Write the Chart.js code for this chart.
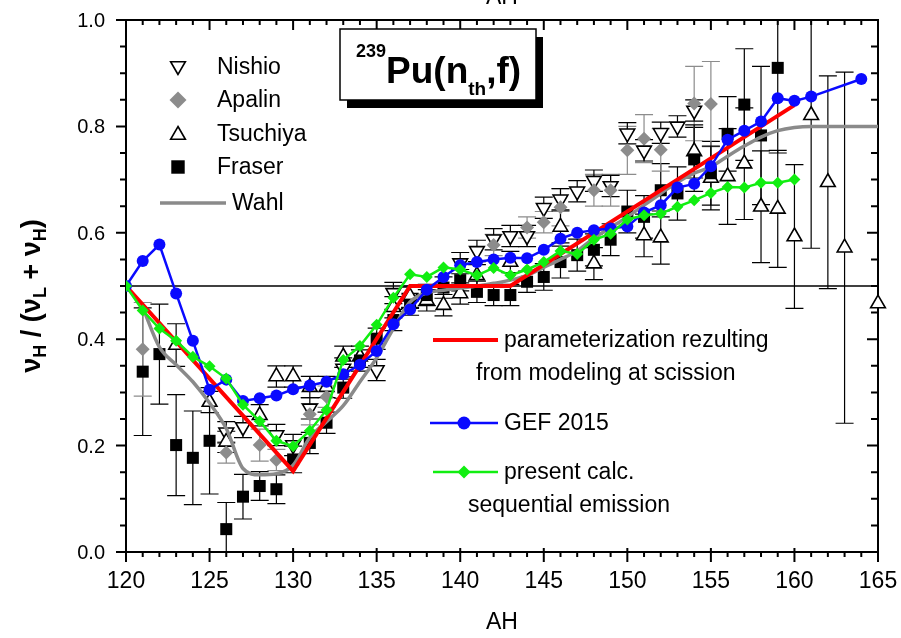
<!DOCTYPE html>
<html>
<head>
<meta charset="utf-8">
<script src="https://cdn.jsdelivr.net/npm/chart.js@4.4.1/dist/chart.umd.min.js"></script>
<style>
  html, body { margin: 0; padding: 0; background: #fff; }
  #wrap { width: 901px; height: 638px; }
</style>
</head>
<body>
<div id="wrap"><canvas id="ratioChart" width="901" height="638"></canvas></div>
<script>
var FONT = '"Liberation Sans", Arial, Helvetica, sans-serif';

// calculations
var gefA = [120,121,122,123,124,125,126,127,128,129,130,131,132,133,134,135,136,137,138,139,140,
            141,142,143,144,145,146,147,148,149,150,151,152,153,154,155,156,157,158,159,160,161,164];
var gefRatio = [0.500,0.547,0.578,0.486,0.397,0.305,0.324,0.284,0.289,0.294,0.306,0.313,0.320,0.334,0.352,
                0.378,0.428,0.456,0.493,0.517,0.539,0.545,0.550,0.553,0.552,0.568,0.589,0.600,0.605,0.608,
                0.612,0.638,0.652,0.685,0.692,0.725,0.775,0.792,0.809,0.853,0.848,0.856,0.889];

var calcA = [120,121,122,123,124,125,126,127,128,129,130,131,132,133,134,135,136,137,138,139,140,
             141,142,143,144,145,146,147,148,149,150,151,152,153,154,155,156,157,158,159,160];
var calcRatio = [0.500,0.454,0.420,0.397,0.367,0.349,0.326,0.277,0.246,0.209,0.199,0.228,0.267,0.361,0.387,
                 0.427,0.478,0.522,0.517,0.535,0.531,0.520,0.534,0.520,0.531,0.545,0.566,0.560,0.587,0.598,
                 0.625,0.633,0.636,0.649,0.661,0.675,0.686,0.685,0.694,0.694,0.700];

var paramA = [120, 130, 137, 143, 160];
var paramRatio = [0.500, 0.152, 0.500, 0.500, 0.840];

var wahlA = [121,122,123,124,125,126,127,128,129,130,131,132,133,134,135,136,137,138,139,140,141,142,143,
             144,145,146,147,148,149,150,151,152,153,154,155,156,157,158,159,160,161,162,163,164,165];
var wahlRatio = [0.460,0.385,0.352,0.320,0.280,0.232,0.157,0.145,0.147,0.163,0.215,0.245,0.275,0.320,0.365,
                 0.420,0.470,0.487,0.492,0.496,0.500,0.505,0.511,0.520,0.535,0.550,0.566,0.590,0.610,0.630,
                 0.652,0.674,0.695,0.712,0.724,0.744,0.763,0.780,0.792,0.798,0.800,0.800,0.800,0.800,0.800];

// measurements
var nishioA = [126,127,129,130,131,133,135,136,137,140,141,142,143,144,145,146,147,148,149,150,151,152,153,154];
var nishioRatio = [0.225,0.235,0.220,0.201,0.270,0.345,0.342,0.487,0.478,0.543,0.566,0.588,0.594,0.594,
                   0.647,0.663,0.678,0.698,0.688,0.787,0.755,0.788,0.800,0.830];
var nishioErr = [0.02,0.02,0.02,0.02,0.02,0.02,0.02,0.02,0.02,0.02,0.02,0.02,0.02,0.02,
                 0.02,0.02,0.02,0.02,0.02,0.02,0.02,0.02,0.02,0.02];

var apalinA = [121,126,128,129,131,132,142,144,145,146,148,149,150,151,152,154,155];
var apalinRatio = [0.381,0.187,0.201,0.173,0.259,0.292,0.577,0.610,0.620,0.648,0.680,0.680,0.755,0.777,0.756,0.843,0.842];
var apalinErr = [0.088,0.02,0.03,0.02,0.02,0.02,0.02,0.02,0.02,0.035,0.03,0.03,0.045,0.045,0.04,0.07,0.08];

var tsuchiyaA = [123,125,126,128,129,130,131,132,133,134,136,137,138,139,140,141,143,146,148,
                 151,152,154,155,156,157,158,159,160,161,162,163,165];
var tsuchiyaRatio = [0.389,0.282,0.207,0.257,0.330,0.330,0.310,0.310,0.367,0.367,0.460,0.480,0.473,0.464,0.486,
                     0.520,0.545,0.611,0.542,0.595,0.591,0.753,0.703,0.706,0.730,0.649,0.645,0.593,0.821,
                     0.695,0.572,0.467];
var tsuchiyaErr = [0.04,0.02,0.02,0.02,0.02,0.02,0.02,0.02,0.02,0.02,0.02,0.02,0.02,0.02,0.02,
                   0.02,0.02,0.03,0.03,0.04,0.05,0.05,0.06,0.09,0.105,0.105,0.11,0.135,0.25,
                   0.2,0.33,0];

var fraserA = [121,122,123,124,125,126,127,128,129,130,131,132,133,134,135,136,137,138,139,140,
               141,142,143,144,145,146,147,148,149,150,151,152,153,154,155,156,157,158,159];
var fraserRatio = [0.339,0.372,0.201,0.177,0.209,0.043,0.104,0.124,0.118,0.174,0.205,0.243,0.309,0.360,
                   0.401,0.436,0.465,0.483,0.497,0.511,0.489,0.483,0.483,0.508,0.517,0.545,0.558,0.568,
                   0.587,0.640,0.630,0.680,0.674,0.738,0.712,0.786,0.841,0.783,0.910];
var fraserErr = [0.12,0.094,0.095,0.088,0.1,0.05,0.042,0.027,0.027,0.025,0.02,0.02,0.02,0.02,
                 0.02,0.02,0.02,0.02,0.02,0.02,0.02,0.02,0.02,0.02,0.025,0.03,0.03,0.03,
                 0.03,0.04,0.04,0.05,0.05,0.06,0.06,0.07,0.105,0.13,0.16];

// axis ticks
var xLabels = [120, 125, 130, 135, 140, 145, 150, 155, 160, 165];
var yLabels = [0.0, 0.2, 0.4, 0.6, 0.8, 1.0];

function pts(xs, ys) {
    return xs.map(function(x, i) { return { x: x, y: ys[i] }; });
}

// vertical error bars with caps, under the markers
var errorBars = {
    id: 'errorBars',
    beforeDatasetsDraw: function(chart) {
        var ctx = chart.ctx, sx = chart.scales.x, sy = chart.scales.y, a = chart.chartArea;
        ctx.save();
        ctx.beginPath();
        ctx.rect(a.left, a.top, a.right - a.left, a.bottom - a.top);
        ctx.clip();
        ctx.lineWidth = 1.2;
        chart.data.datasets.forEach(function(ds) {
            if (!ds.errors) return;
            ctx.strokeStyle = ds.errorColor;
            ds.data.forEach(function(p, i) {
                var e = ds.errors[i];
                if (!e) return;
                var px = sx.getPixelForValue(p.x);
                var y1 = sy.getPixelForValue(p.y - e), y2 = sy.getPixelForValue(p.y + e);
                ctx.beginPath();
                ctx.moveTo(px, y1); ctx.lineTo(px, y2);
                ctx.moveTo(px - 9, y1); ctx.lineTo(px + 9, y1);
                ctx.moveTo(px - 9, y2); ctx.lineTo(px + 9, y2);
                ctx.stroke();
            });
        });
        ctx.restore();
    }
};

// box, tick marks, tick labels and the 0.5 reference line
var frame = {
    id: 'frame',
    beforeDatasetsDraw: function(chart) {
        var ctx = chart.ctx, sx = chart.scales.x, sy = chart.scales.y, a = chart.chartArea;
        ctx.save();
        ctx.strokeStyle = '#000';
        ctx.lineWidth = 1.5;
        var y05 = sy.getPixelForValue(0.5);
        ctx.beginPath(); ctx.moveTo(a.left, y05); ctx.lineTo(a.right, y05); ctx.stroke();

        ctx.lineWidth = 2;
        ctx.strokeRect(a.left, a.top, a.right - a.left, a.bottom - a.top);
        ctx.beginPath();
        for (var v = sx.min; v <= sx.max; v++) {
            var px = sx.getPixelForValue(v), major = v % 5 === 0;
            ctx.moveTo(px, a.bottom - (major ? 4 : 0)); ctx.lineTo(px, a.bottom + (major ? 10 : 5));
            ctx.moveTo(px, a.top); ctx.lineTo(px, a.top + (major ? 10 : 5));
        }
        for (var k = 0; k <= 20; k++) {
            var py = sy.getPixelForValue(k * 0.05), maj = k % 4 === 0;
            ctx.moveTo(a.left - (maj ? 10 : 6), py); ctx.lineTo(a.left, py);
            ctx.moveTo(a.right - (maj ? 11 : 7), py); ctx.lineTo(a.right, py);
        }
        ctx.stroke();

        ctx.fillStyle = '#000';
        ctx.textBaseline = 'alphabetic';
        ctx.textAlign = 'center';
        ctx.font = '23px ' + FONT;
        xLabels.forEach(function(t) {
            ctx.fillText(String(t), sx.getPixelForValue(t), a.bottom + 36);
        });
        ctx.textAlign = 'right';
        ctx.font = '20px ' + FONT;
        yLabels.forEach(function(t) {
            ctx.fillText(t.toFixed(1), a.left - 21, sy.getPixelForValue(t) + 7);
        });
        ctx.restore();
    }
};

function marker(ctx, style, r, rot, fill, stroke, bw, x, y) {
    ctx.fillStyle = fill;
    ctx.strokeStyle = stroke;
    ctx.lineWidth = bw;
    Chart.helpers.drawPoint(ctx, { pointStyle: style, radius: r, rotation: rot, borderWidth: bw }, x, y);
}

// draws text pieces one after another: [text, font, baseline shift]
function runs(ctx, parts, x, y, align) {
    var total = 0;
    parts.forEach(function(p) { ctx.font = p[1]; total += ctx.measureText(p[0]).width; });
    var cx = align === 'center' ? x - total / 2 : x;
    parts.forEach(function(p) {
        ctx.font = p[1];
        ctx.fillText(p[0], cx, y + (p[2] || 0));
        cx += ctx.measureText(p[0]).width;
    });
}

var overlay = {
    id: 'overlay',
    afterDraw: function(chart) {
        var ctx = chart.ctx, a = chart.chartArea;
        ctx.save();
        ctx.fillStyle = '#000';
        ctx.textBaseline = 'middle';
        ctx.textAlign = 'left';

        // data legend, upper left
        var f = '23px ' + FONT;
        marker(ctx, 'triangle', 8.5, 180, '#fff', '#000', 1.6, 178, 66);
        marker(ctx, 'rectRot', 8.5, 0, '#8c8c8c', '#8c8c8c', 0, 178, 100);
        marker(ctx, 'triangle', 8.5, 0, '#fff', '#000', 1.6, 178, 135);
        marker(ctx, 'rect', 9.5, 0, '#000', '#000', 0, 178, 167);
        ctx.strokeStyle = '#8a8a8a'; ctx.lineWidth = 3.5;
        ctx.beginPath(); ctx.moveTo(160, 203); ctx.lineTo(226, 203); ctx.stroke();
        ctx.fillStyle = '#000';
        ctx.font = f;
        ctx.fillText('Nishio', 217, 68);
        ctx.fillText('Apalin', 217, 101);
        ctx.fillText('Tsuchiya', 217, 135);
        ctx.fillText('Fraser', 217, 168);
        ctx.fillText('Wahl', 232, 204);

        // model legend, lower right
        ctx.strokeStyle = '#ff0000'; ctx.lineWidth = 4;
        ctx.beginPath(); ctx.moveTo(433, 340); ctx.lineTo(498, 340); ctx.stroke();
        ctx.strokeStyle = '#0a0aff'; ctx.lineWidth = 2.5;
        ctx.beginPath(); ctx.moveTo(430, 423); ctx.lineTo(498, 423); ctx.stroke();
        marker(ctx, 'circle', 6.5, 0, '#0a0aff', '#0a0aff', 0, 464, 423);
        ctx.strokeStyle = '#11ee11'; ctx.lineWidth = 2.5;
        ctx.beginPath(); ctx.moveTo(433, 472); ctx.lineTo(498, 472); ctx.stroke();
        marker(ctx, 'rectRot', 6.5, 0, '#11ee11', '#11ee11', 0, 464, 472);
        ctx.fillStyle = '#000';
        ctx.font = f;
        ctx.fillText('parameterization rezulting', 504, 341);
        ctx.fillText('from modeling at scission', 476, 374);
        ctx.fillText('GEF 2015', 504, 424);
        ctx.fillText('present calc.', 504, 473);
        ctx.fillText('sequential emission', 468, 506);

        // reaction label with drop shadow
        ctx.fillStyle = '#000';
        ctx.fillRect(347, 37, 196, 71);
        ctx.fillStyle = '#fff';
        ctx.fillRect(340, 29, 196, 71);
        ctx.strokeStyle = '#000'; ctx.lineWidth = 1.5;
        ctx.strokeRect(340, 29, 196, 71);
        ctx.fillStyle = '#000';
        ctx.textBaseline = 'alphabetic';
        runs(ctx, [
            ['239', 'bold 18px ' + FONT, -26],
            ['Pu(n', 'bold 37px ' + FONT, 0],
            ['th', 'bold 19px ' + FONT, 12],
            [',f)', 'bold 37px ' + FONT, 0]
        ], 356, 83, 'left');

        // y axis title
        ctx.save();
        ctx.translate(40, 296);
        ctx.rotate(-Math.PI / 2);
        runs(ctx, [
            ['\u03BD', 'bold 27px ' + FONT, 0],
            ['H', 'bold 18px ' + FONT, 6],
            [' / (\u03BD', 'bold 27px ' + FONT, 0],
            ['L', 'bold 18px ' + FONT, 6],
            [' + \u03BD', 'bold 27px ' + FONT, 0],
            ['H', 'bold 18px ' + FONT, 6],
            [')', 'bold 27px ' + FONT, 0]
        ], 0, 0, 'center');
        ctx.restore();

        // top axis title, mostly above the canvas edge
        ctx.font = '23px ' + FONT;
        ctx.textAlign = 'center';
        ctx.fillText('AH', (a.left + a.right) / 2, 4);
        ctx.restore();
    }
};

var ctx = document.getElementById('ratioChart').getContext('2d');
var ratioChart = new Chart(ctx, {
    type: 'scatter',
    data: {
        datasets: [{
            label: 'present calc. sequential emission',
            data: pts(calcA, calcRatio),
            showLine: true,
            borderColor: '#11ee11',
            backgroundColor: '#11ee11',
            borderWidth: 2.5,
            pointStyle: 'rectRot',
            pointRadius: 6,
            pointBorderWidth: 0
        }, {
            label: 'GEF 2015',
            data: pts(gefA, gefRatio),
            showLine: true,
            borderColor: '#0a0aff',
            backgroundColor: '#0a0aff',
            borderWidth: 2.5,
            pointStyle: 'circle',
            pointRadius: 6,
            pointBorderWidth: 0
        }, {
            label: 'parameterization rezulting from modeling at scission',
            data: pts(paramA, paramRatio),
            showLine: true,
            borderColor: '#ff0000',
            borderWidth: 4,
            pointRadius: 0
        }, {
            label: 'Wahl',
            data: pts(wahlA, wahlRatio),
            showLine: true,
            borderColor: '#8a8a8a',
            borderWidth: 3.5,
            cubicInterpolationMode: 'monotone',
            pointRadius: 0
        }, {
            label: 'Fraser',
            data: pts(fraserA, fraserRatio),
            errors: fraserErr,
            errorColor: '#000',
            backgroundColor: '#000',
            borderColor: '#000',
            pointStyle: 'rect',
            pointRadius: 8.5,
            pointBorderWidth: 0
        }, {
            label: 'Apalin',
            data: pts(apalinA, apalinRatio),
            errors: apalinErr,
            errorColor: '#8c8c8c',
            backgroundColor: '#8c8c8c',
            borderColor: '#8c8c8c',
            pointStyle: 'rectRot',
            pointRadius: 7,
            pointBorderWidth: 0
        }, {
            label: 'Tsuchiya',
            data: pts(tsuchiyaA, tsuchiyaRatio),
            errors: tsuchiyaErr,
            errorColor: '#000',
            backgroundColor: '#fff',
            borderColor: '#000',
            pointStyle: 'triangle',
            pointRadius: 8.5,
            pointBorderWidth: 1.6,
            clip: false
        }, {
            label: 'Nishio',
            data: pts(nishioA, nishioRatio),
            errors: nishioErr,
            errorColor: '#000',
            backgroundColor: '#fff',
            borderColor: '#000',
            pointStyle: 'triangle',
            pointRotation: 180,
            pointRadius: 8.5,
            pointBorderWidth: 1.6
        }]
    },
    options: {
        responsive: false,
        animation: false,
        devicePixelRatio: 1,
        layout: { padding: { left: 0, top: 20, right: 23, bottom: 0 } },
        plugins: {
            legend: { display: false },
            tooltip: { enabled: false }
        },
        elements: { line: { tension: 0 } },
        scales: {
            x: {
                type: 'linear',
                min: 120,
                max: 165,
                grid: { display: false, drawTicks: false },
                border: { display: false },
                ticks: { display: false },
                title: {
                    display: true,
                    text: 'AH',
                    color: '#000',
                    font: { family: FONT, size: 23 },
                    padding: { top: 0, bottom: 2 }
                },
                afterFit: function(scale) { scale.height = 86; }
            },
            y: {
                min: 0,
                max: 1,
                grid: { display: false, drawTicks: false },
                border: { display: false },
                ticks: { display: false },
                afterFit: function(scale) { scale.width = 126; }
            }
        }
    },
    plugins: [frame, errorBars, overlay]
});
</script>
</body>
</html>
